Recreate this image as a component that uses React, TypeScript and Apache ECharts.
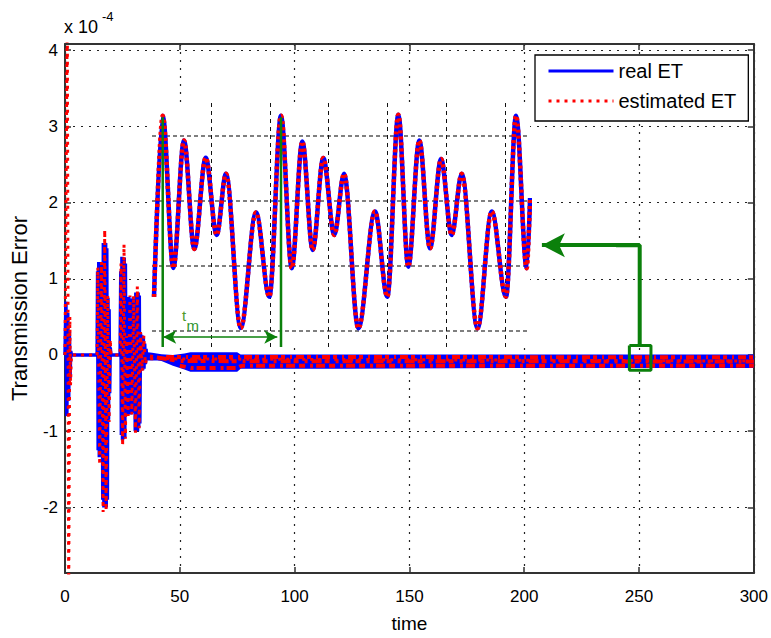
import React, { useEffect, useRef } from 'react';
import * as echarts from 'echarts';

const FONT = '"Liberation Sans", Arial, Helvetica, sans-serif';
const BLUE = '#0000ff';
const RED = '#ff0000';
const GREEN = '#0b800b';

// ---- main axes ----
const xTicks = [0, 50, 100, 150, 200, 250, 300];
const yTicks = [-2, -1, 0, 1, 2, 3, 4];
const Y_MIN = -2.86;
const Y_MAX = 4.08;

// ---- main signal (units of 1e-4), [time, value] ----
const realStart: number[][] = [[0, 0], [0.4, 0.7], [0.8, -0.8], [1.2, 0.55], [1.6, -0.6], [1.9, 0.3], [2.2, -0.3], [2.5, 0.05], [2.8, 0]];
const estStart: number[][] = [[0, 0], [1.0, 4.6], [1.6, -3.2], [2.1, 0.5], [2.4, -0.4], [2.8, 0]];

const burst1Real: number[][] = [[14, 0], [14.2, 1.1], [14.45, -1.25], [14.7, 1.22], [14.95, -1.34], [15.2, 1.2], [15.45, -1.3], [15.7, 1.22], [15.95, -1.34], [16.2, 1.15], [16.45, -1.9], [16.7, 1.47], [16.95, -2.0], [17.2, 1.45], [17.45, -1.98], [17.7, 1.47], [17.95, -2.0], [18.2, 1.4], [18.45, -1.9], [18.7, 0.75], [18.95, -0.85], [19.2, 0.6], [19.45, -0.5], [19.7, 0.1], [20, 0]];
const burst1Est: number[][] = [[14, 0], [14.3, 1.15], [15.1, -1.44], [15.9, 1.22], [16.6, -2.06], [17.3, 1.64], [17.9, -2.04], [18.6, 0.78], [19.2, -0.88], [19.7, 0.2], [20, 0]];

const burst2Real: number[][] = [[24, 0], [24.3, 1.1], [24.55, -1.05], [24.8, 1.29], [25.05, -1.12], [25.3, 1.25], [25.55, -1.1], [25.8, 1.28], [26.05, -1.08], [26.3, 1.2], [26.55, -0.3], [26.8, 0.25], [27.05, -0.75], [27.3, 0.7], [27.55, -0.78], [27.8, 0.76], [28.05, -0.7], [28.3, 0.74], [28.55, -0.78], [28.8, 0.72], [29.05, -0.76], [29.3, 0.7], [29.55, -0.74], [29.8, 0.76], [30.05, -0.7], [30.3, 0.6], [30.6, -1.0], [30.85, 0.82], [31.1, -0.98], [31.35, 0.8], [31.6, -1.0], [31.85, 0.82], [32.1, -0.95], [32.35, 0.78], [32.6, -0.9], [32.9, 0.28], [33.2, -0.19], [33.5, 0.26], [33.8, -0.2], [34.1, 0.25], [34.4, -0.18], [34.7, 0.15], [35, -0.12], [35.3, 0.08], [35.6, -0.05]];
const burst2Est: number[][] = [[24, 0], [24.4, 1.2], [25.1, -1.19], [25.7, 1.45], [26.3, -1.1], [26.8, 0.25], [27.5, -0.8], [28.3, 0.78], [29.1, -0.78], [29.9, 0.78], [30.7, -1.02], [31.5, 0.9], [32.3, -0.96], [32.9, 0.3], [33.6, -0.21], [34.3, 0.25], [35, -0.12], [35.6, -0.05]];

const realTail: number[][] = [[40, -0.05], [300, -0.08]];
const estTail: number[][] = [[40, -0.05], [300, -0.08]];

// steady-state band envelope
const bandT = [35, 38, 42, 47, 52, 54.6, 75, 76.5, 120, 200, 300];
const bandUpper = [0.04, 0.03, 0.01, 0.0, 0.02, 0.035, 0.035, 0.005, 0.005, 0.005, 0.005];
const bandLower = [-0.03, -0.05, -0.08, -0.14, -0.19, -0.22, -0.22, -0.18, -0.18, -0.17, -0.17];
// estimated ET inside the band
const estBandA: number[][] = [[44, -0.025], [300, -0.03]];
const estBandB: number[][] = [[37, -0.02], [50, -0.08], [300, -0.085]];
const estBandC: number[][] = [[50, -0.14], [55, -0.17], [75, -0.17], [77, -0.14], [300, -0.14]];

// ---- inset (zoomed steady-state), [window time, value] ----
const insetXTicks = [1, 2, 3, 4, 5, 6];
const insetYTicks = [0, 1, 2, 3];
const insetReal: number[][] = [
  [0.034, 0.52], [0.182, 3.304], [0.362, 0.965], [0.543, 2.924], [0.718, 1.258], [0.912, 2.658], [1.098, 1.473], [1.256, 2.412],
  [1.506, 0.042], [1.766, 1.816], [1.992, 0.524], [2.19, 3.304], [2.372, 0.961], [2.552, 2.908], [2.728, 1.242], [2.908, 2.653],
  [3.095, 1.473], [3.26, 2.412], [3.503, 0.038], [3.786, 1.832], [3.995, 0.524], [4.182, 3.319], [4.351, 0.985], [4.538, 2.924],
  [4.72, 1.268], [4.907, 2.638], [5.088, 1.473], [5.258, 2.412], [5.526, 0.038], [5.767, 1.832], [6.01, 0.524], [6.18, 3.304],
  [6.362, 0.961], [6.418, 2.04],
];
const insetEst: number[][] = insetReal;
const tmStart = 0.182;
const tmEnd = 2.19;
const tmTop = 3.28;
const tmArrowFrom = 0.19;
const tmArrowTo = 2.127;
const tmArrowY = -0.096;

// ---- green pointer from the zoom window ----
const zoomBox: number[][] = [[245.8, 0.125], [255.2, 0.125], [255.2, -0.2], [245.8, -0.2], [245.8, 0.125]];
const pointerPath: number[][] = [[250.3, 0.125], [250.3, 1.44], [240, 1.44]];
const pointerArrow: number[][] = [[250.3, 1.44], [207.7, 1.44]];

const realData = [...realStart, ...burst1Real, ...burst2Real, ...realTail];
const estData = [...estStart, ...burst1Est, ...burst2Est, ...estTail];

const dotted = { color: '#222', width: 1.2, type: [2, 6] as number[] };

function buildOption(): any {
  return {
    animation: false,
    backgroundColor: '#fff',
    textStyle: { fontFamily: FONT },
    grid: [
      { left: 64, top: 44, width: 690, height: 541, containLabel: false },
      { left: 152, top: 103, width: 377, height: 244, containLabel: false },
    ],
    legend: {
      data: [
        { name: 'real ET', lineStyle: { color: BLUE, width: 3 } },
        { name: 'estimated ET', lineStyle: { color: RED, width: 3, type: [3, 5] } },
      ],
      orient: 'vertical',
      left: 535,
      top: 55,
      padding: [6, 12, 10, 12],
      itemWidth: 65,
      itemHeight: 20,
      itemGap: 10,
      itemStyle: { opacity: 0 },
      borderColor: '#000',
      borderWidth: 1.3,
      backgroundColor: '#fff',
      selectedMode: false,
      textStyle: { fontSize: 20, color: '#000', fontFamily: FONT },
      z: 6,
    },
    xAxis: [
      {
        type: 'value', gridIndex: 0, position: 'bottom', min: 0, max: 300, interval: 50,
        axisLine: { show: true, onZero: false, lineStyle: { color: '#333', width: 2 } },
        axisTick: { show: true, inside: true, length: 6, lineStyle: { color: '#333', width: 1.5 } },
        axisLabel: { fontSize: 17, color: '#000', margin: 15, fontFamily: FONT },
        splitLine: { show: true, lineStyle: dotted },
        name: 'time', nameLocation: 'middle', nameGap: 41,
        nameTextStyle: { fontSize: 19, color: '#000', fontFamily: FONT },
      },
      {
        type: 'value', gridIndex: 0, position: 'top', min: 0, max: 300, interval: 50,
        axisLine: { show: true, onZero: false, lineStyle: { color: '#333', width: 2 } },
        axisTick: { show: true, inside: true, length: 6, lineStyle: { color: '#333', width: 1.5 } },
        axisLabel: { show: false },
        splitLine: { show: false },
      },
      {
        type: 'value', gridIndex: 1, min: 0, max: 6.4, z: 2,
        axisLine: { show: false },
        axisTick: { show: false, customValues: insetXTicks },
        axisLabel: { show: false, customValues: insetXTicks },
        splitLine: { show: true, lineStyle: { color: '#111', width: 1, type: [4, 4] } },
      },
    ],
    yAxis: [
      {
        type: 'value', gridIndex: 0, position: 'left', min: Y_MIN, max: Y_MAX,
        axisLine: { show: true, onZero: false, lineStyle: { color: '#333', width: 2 } },
        axisTick: { show: true, inside: true, length: 6, customValues: yTicks, lineStyle: { color: '#333', width: 1.5 } },
        axisLabel: { fontSize: 17, color: '#000', margin: 7, customValues: yTicks, fontFamily: FONT },
        splitLine: { show: true, lineStyle: dotted },
        name: 'Transmission Error', nameLocation: 'middle', nameGap: 35,
        nameTextStyle: { fontSize: 22, color: '#000', fontFamily: FONT },
      },
      {
        type: 'value', gridIndex: 0, position: 'right', min: Y_MIN, max: Y_MAX,
        axisLine: { show: true, onZero: false, lineStyle: { color: '#333', width: 2 } },
        axisTick: { show: true, inside: true, length: 6, customValues: yTicks, lineStyle: { color: '#333', width: 1.5 } },
        axisLabel: { show: false, customValues: yTicks },
        splitLine: { show: false },
      },
      {
        type: 'value', gridIndex: 1, min: -0.25, max: 3.5, z: 2,
        axisLine: { show: false },
        axisTick: { show: false, customValues: insetYTicks },
        axisLabel: { show: false, customValues: insetYTicks },
        splitLine: { show: true, lineStyle: { color: '#555', width: 1.5, type: [4, 3] } },
      },
    ],
    graphic: [
      { type: 'rect', z: 1, silent: true, shape: { x: 152, y: 104, width: 378, height: 244 }, style: { fill: '#fff' } },
      { type: 'text', z: 5, x: 64, y: 27, style: { text: 'x 10', font: `18px ${FONT}`, fill: '#000', verticalAlign: 'middle' } },
      { type: 'text', z: 5, x: 102, y: 16, style: { text: '-4', font: `13px ${FONT}`, fill: '#000', verticalAlign: 'middle' } },
      { type: 'text', z: 7, x: 182, y: 315, style: { text: 't', font: `15px ${FONT}`, fill: '#4f9a2a', verticalAlign: 'middle' } },
      { type: 'text', z: 7, x: 186.5, y: 325, style: { text: 'm', font: `15px ${FONT}`, fill: '#2e962e', verticalAlign: 'middle' } },
    ],
    series: [
      {
        name: 'real ET', type: 'line', xAxisIndex: 0, yAxisIndex: 0, data: realData,
        symbol: 'none', showSymbol: false, color: BLUE, z: 2, silent: true,
        lineStyle: { color: BLUE, width: 3.5 },
      },
      {
        name: 'band', type: 'custom', xAxisIndex: 0, yAxisIndex: 0, z: 2, silent: true, clip: true,
        data: [[bandT[0], bandUpper[0]]],
        renderItem: (params: any, api: any) => {
          const upper = bandT.map((t, i) => api.coord([t, bandUpper[i]]));
          const lower = bandT.map((t, i) => api.coord([t, bandLower[i]])).reverse();
          return { type: 'polygon', shape: { points: upper.concat(lower) }, style: { fill: BLUE } };
        },
      },
      {
        name: 'estimated ET', type: 'line', xAxisIndex: 0, yAxisIndex: 0, data: estData,
        symbol: 'none', showSymbol: false, color: RED, z: 3, silent: true,
        lineStyle: { color: RED, width: 3, type: [3, 5] },
      },
      {
        name: 'estA', type: 'line', xAxisIndex: 0, yAxisIndex: 0, data: estBandA, symbol: 'none', z: 3, silent: true,
        lineStyle: { color: RED, width: 4, type: [8, 3, 4, 5, 2, 4] },
      },
      {
        name: 'estB', type: 'line', xAxisIndex: 0, yAxisIndex: 0, data: estBandB, symbol: 'none', z: 3, silent: true,
        lineStyle: { color: RED, width: 4, type: [3, 4, 10, 3, 5, 6] },
      },
      {
        name: 'estC', type: 'line', xAxisIndex: 0, yAxisIndex: 0, data: estBandC, symbol: 'none', z: 3, silent: true,
        lineStyle: { color: RED, width: 4, type: [6, 5, 3, 3, 9, 4] },
      },
      {
        name: 'insetReal', type: 'line', xAxisIndex: 2, yAxisIndex: 2, data: insetReal,
        symbol: 'none', smooth: 0.35, smoothMonotone: 'x', z: 3, silent: true,
        lineStyle: { color: BLUE, width: 4.5 },
      },
      {
        name: 'insetEst', type: 'line', xAxisIndex: 2, yAxisIndex: 2, data: insetEst,
        symbol: 'none', smooth: 0.35, smoothMonotone: 'x', z: 3, silent: true,
        lineStyle: { color: RED, width: 4.5, type: [3, 3] },
      },
      {
        name: 'tmA', type: 'line', xAxisIndex: 2, yAxisIndex: 2, data: [[tmStart, tmTop], [tmStart, -0.25]],
        symbol: 'none', z: 4, silent: true, lineStyle: { color: GREEN, width: 2.5 },
        markLine: {
          silent: true, animation: false, symbol: ['arrow', 'arrow'], symbolSize: [10, 13],
          label: { show: false },
          lineStyle: { color: GREEN, width: 1.5, type: 'solid' },
          data: [[{ coord: [tmArrowFrom, tmArrowY] }, { coord: [tmArrowTo, tmArrowY] }]],
        },
      },
      {
        name: 'tmB', type: 'line', xAxisIndex: 2, yAxisIndex: 2, data: [[tmEnd, tmTop], [tmEnd, -0.25]],
        symbol: 'none', z: 4, silent: true, lineStyle: { color: GREEN, width: 2.5 },
      },
      {
        name: 'zoomBox', type: 'line', xAxisIndex: 0, yAxisIndex: 0, data: zoomBox,
        symbol: 'none', z: 5, silent: true, lineStyle: { color: GREEN, width: 3 },
      },
      {
        name: 'pointer', type: 'line', xAxisIndex: 0, yAxisIndex: 0, data: pointerPath,
        symbol: 'none', z: 5, silent: true, lineStyle: { color: GREEN, width: 4 },
        markLine: {
          silent: true, animation: false, symbol: ['none', 'arrow'], symbolSize: [18, 23],
          label: { show: false },
          lineStyle: { color: GREEN, width: 4, type: 'solid' },
          data: [[{ coord: pointerArrow[0] }, { coord: pointerArrow[1] }]],
        },
      },
    ],
  };
}

export default function App() {
  const ref = useRef<HTMLDivElement>(null);
  useEffect(() => {
    if (!ref.current) return;
    const chart = echarts.init(ref.current, null, { renderer: 'svg' });
    chart.setOption(buildOption());
    return () => chart.dispose();
  }, []);
  return (
    <div
      ref={ref}
      style={{ position: 'fixed', left: 0, top: 0, width: 771, height: 638, background: '#fff' }}
    />
  );
}
